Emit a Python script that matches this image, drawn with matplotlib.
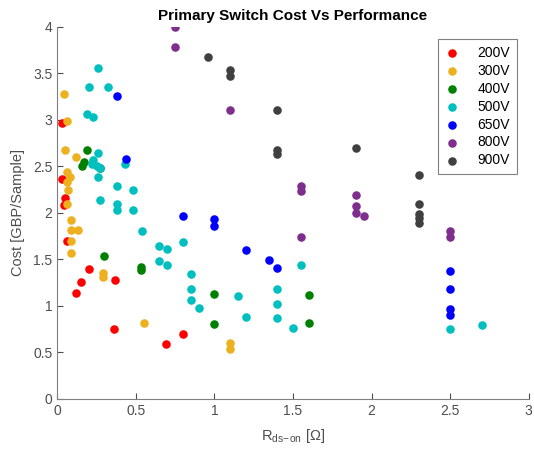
import matplotlib
matplotlib.use('Agg')
import matplotlib.pyplot as plt

plt.rcParams['font.family'] = ['Liberation Sans', 'DejaVu Sans']

# R_ds-on [ohm] and cost [GBP/sample] per voltage class
v200_r = [0.03, 0.03, 0.05, 0.04, 0.06, 0.20, 0.15, 0.12, 0.37, 0.36, 0.80, 0.69]
v200_c = [2.97, 2.36, 2.16, 2.08, 1.70, 1.40, 1.26, 1.14, 1.28, 0.75, 0.70, 0.59]

v300_r = [0.04, 0.06, 0.05, 0.12, 0.06, 0.08, 0.06, 0.07, 0.06, 0.09, 0.09, 0.13,
          0.09, 0.09, 0.29, 0.29, 0.55, 1.10, 1.10]
v300_c = [3.28, 2.99, 2.68, 2.60, 2.44, 2.39, 2.33, 2.25, 2.09, 1.92, 1.82, 1.82,
          1.70, 1.57, 1.35, 1.31, 0.82, 0.60, 0.54]

v400_r = [0.19, 0.17, 0.16, 0.27, 0.30, 0.53, 0.53, 1.00, 1.00, 1.60, 1.60]
v400_c = [2.68, 2.55, 2.50, 2.48, 1.53, 1.42, 1.38, 1.13, 0.80, 1.12, 0.82]

v500_r = [0.26, 0.20, 0.32, 0.19, 0.23, 0.26, 0.23, 0.22, 0.25, 0.27, 0.26, 0.43,
          0.38, 0.48, 0.27, 0.38, 0.38, 0.48, 0.54, 0.65, 0.70, 0.80, 0.65, 0.70,
          0.85, 0.85, 0.85, 0.90, 1.15, 1.20, 1.40, 1.40, 1.40, 1.50, 1.55, 2.50, 2.70]
v500_c = [3.56, 3.35, 3.35, 3.06, 3.03, 2.64, 2.57, 2.52, 2.50, 2.48, 2.39, 2.52,
          2.29, 2.25, 2.14, 2.09, 2.03, 2.03, 1.80, 1.64, 1.61, 1.69, 1.48, 1.44,
          1.34, 1.18, 1.06, 0.98, 1.10, 0.88, 1.18, 1.02, 0.87, 0.76, 1.44, 0.75, 0.79]

v650_r = [0.38, 0.44, 0.80, 1.00, 1.00, 1.20, 1.35, 1.40, 2.50, 2.50, 2.50, 2.50]
v650_c = [3.26, 2.58, 1.97, 1.93, 1.86, 1.60, 1.49, 1.41, 1.37, 1.18, 0.97, 0.90]

v800_r = [0.75, 0.75, 1.10, 1.55, 1.55, 1.90, 1.90, 1.90, 1.95, 1.55, 2.50, 2.50]
v800_c = [4.00, 3.78, 3.11, 2.29, 2.23, 2.19, 2.07, 2.00, 1.97, 1.74, 1.80, 1.74]

v900_r = [0.96, 1.10, 1.10, 1.40, 1.40, 1.40, 1.90, 2.30, 2.30, 2.30, 2.30, 2.30]
v900_c = [3.68, 3.54, 3.47, 3.11, 2.68, 2.63, 2.70, 2.41, 2.09, 1.99, 1.94, 1.89]

labels = ['200V', '300V', '400V', '500V', '650V', '800V', '900V']
colors = ['#ff0000', '#edb120', '#008000', '#00bfbf', '#0000ff', '#7e2f8e', '#404040']
series = [(v200_r, v200_c), (v300_r, v300_c), (v400_r, v400_c), (v500_r, v500_c),
          (v650_r, v650_c), (v800_r, v800_c), (v900_r, v900_c)]

fig = plt.figure(figsize=(5.34, 4.5), dpi=100)
ax = fig.add_axes([0.1073, 0.1138, 0.8827, 0.8267])

for (r, c), lab, col in zip(series, labels, colors):
    ax.scatter(r, c, s=38, color=col, label=lab, linewidths=0, zorder=3)

grey = '#4d4d4d'
ax.set_xlim(0, 3)
ax.set_ylim(0, 4)
ax.set_xticks([0, 0.5, 1, 1.5, 2, 2.5, 3])
ax.set_xticklabels(['0', '0.5', '1', '1.5', '2', '2.5', '3'])
ax.set_yticks([0, 0.5, 1, 1.5, 2, 2.5, 3, 3.5, 4])
ax.set_yticklabels(['0', '0.5', '1', '1.5', '2', '2.5', '3', '3.5', '4'])
ax.tick_params(direction='in', length=4, colors=grey, labelsize=10, labelcolor=grey)
for side in ['top', 'right']:
    ax.spines[side].set_visible(False)
for side in ['left', 'bottom']:
    ax.spines[side].set_color('#808080')

ax.set_title('Primary Switch Cost Vs Performance', fontsize=11, fontweight='bold', pad=5)
ax.set_xlabel(r'R$_{\mathregular{ds\!-\!on}}$ [Ω]', fontsize=10.5, color=grey, labelpad=7)
ax.set_ylabel('Cost [GBP/Sample]', fontsize=10.5, color=grey, labelpad=6)

leg = ax.legend(loc='upper right', bbox_to_anchor=(0.975, 0.967), fontsize=10,
                frameon=True, fancybox=False, edgecolor='#808080', framealpha=1,
                handlelength=1.0, handletextpad=1.3, labelspacing=0.28,
                borderpad=0.5, borderaxespad=0, scatterpoints=1)
leg.get_frame().set_linewidth(0.8)

fig.savefig('out.png', dpi=100)
